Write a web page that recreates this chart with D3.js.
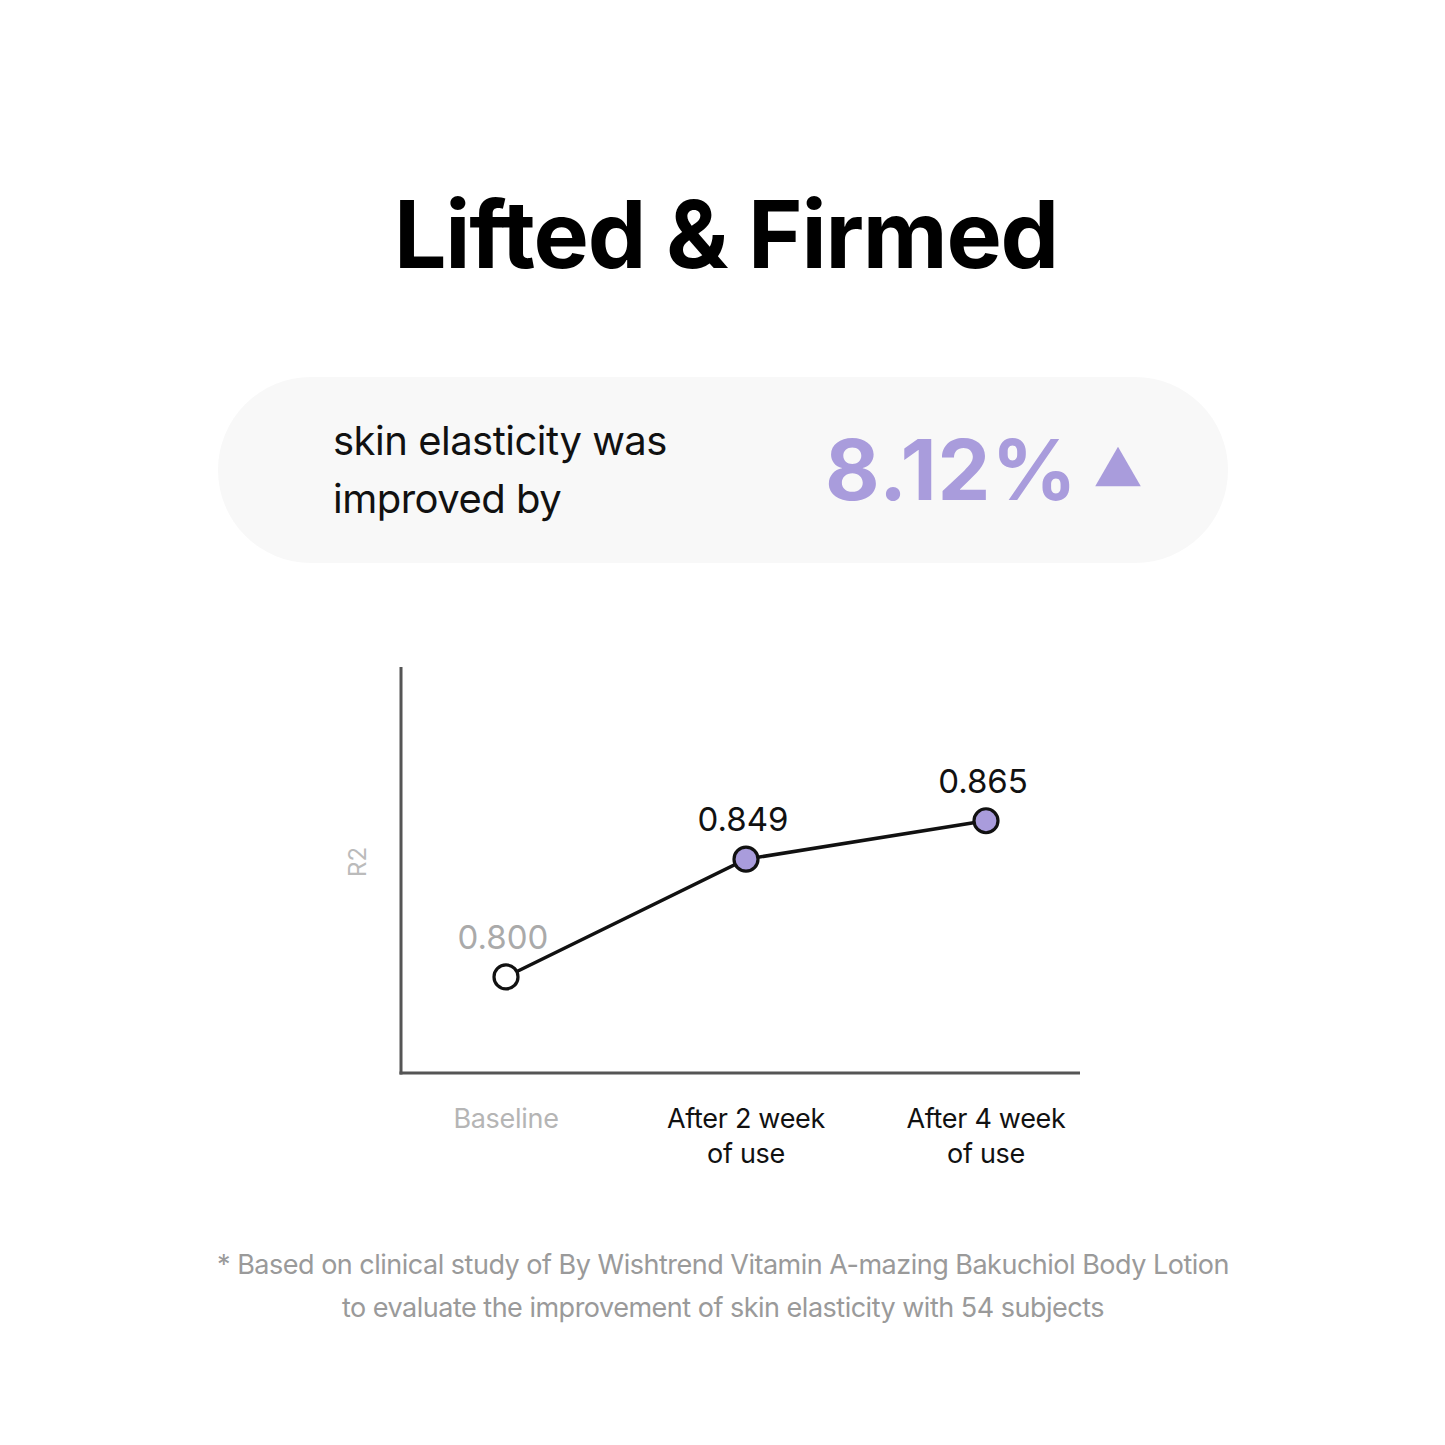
<!DOCTYPE html>
<html>
<head>
<meta charset="utf-8">
<script src="https://cdn.jsdelivr.net/npm/d3@7"></script>
<style>
  html, body { margin: 0; padding: 0; background: #ffffff; }
  svg { display: block; font-family: Inter, "Noto Sans", sans-serif; }
</style>
</head>
<body>
<svg id="chart" width="1445" height="1445"></svg>
<script>
// ---- data ----
const categories = ["Baseline", "After 2 week|of use", "After 4 week|of use"];
const values = [0.800, 0.849, 0.865];
const valueLabels = ["0.800", "0.849", "0.865"];
const yDomain = [0.76, 0.929];
const title = "Lifted & Firmed";
const calloutLines = ["skin elasticity was", "improved by"];
const calloutValue = "8.12%";
const yAxisLabel = "R2";
const footnote = [
  "* Based on clinical study of By Wishtrend Vitamin A-mazing Bakuchiol Body Lotion",
  "to evaluate the improvement of skin elasticity with 54 subjects"
];

const purple = "#a99cdc";
const svg = d3.select("#chart");

// title
svg.append("text")
  .attr("x", 726).attr("y", 268)
  .attr("text-anchor", "middle")
  .attr("font-size", 93).attr("font-weight", 700)
  .attr("letter-spacing", -1.2)
  .attr("fill", "#000")
  .text(title);

// callout pill
svg.append("rect")
  .attr("x", 218).attr("y", 377).attr("width", 1010).attr("height", 186)
  .attr("rx", 93).attr("ry", 93)
  .attr("fill", "#f8f8f8");
svg.selectAll("text.callout").data(calloutLines).enter().append("text")
  .attr("class", "callout")
  .attr("x", 333).attr("y", (d, i) => 455 + i * 58)
  .attr("font-size", 40).attr("fill", "#111")
  .attr("letter-spacing", -0.5)
  .text(d => d);
svg.append("text")
  .attr("x", 825).attr("y", 500)
  .attr("font-size", 84).attr("font-weight", 700)
  .attr("letter-spacing", 1)
  .attr("fill", purple)
  .text(calloutValue);
svg.append("path")
  .attr("d", d3.symbol().type(d3.symbolTriangle).size(900)())
  .attr("transform", "translate(1118,473)")
  .attr("fill", purple);

// chart
const x0 = 401, x1 = 1080, yTop = 667, yBot = 1073;
const x = d3.scalePoint().domain(categories).range([506, 986]);
const y = d3.scaleLinear().domain(yDomain).range([yBot, yTop]);

// axes
svg.append("line").attr("x1", x0).attr("x2", x0).attr("y1", yTop).attr("y2", yBot + 1.5)
  .attr("stroke", "#555").attr("stroke-width", 3);
svg.append("line").attr("x1", x0 - 1.5).attr("x2", x1).attr("y1", yBot).attr("y2", yBot)
  .attr("stroke", "#555").attr("stroke-width", 3);

// y label
svg.append("text")
  .attr("transform", `translate(366,${(yTop + yBot) / 2 - 8}) rotate(-90)`)
  .attr("text-anchor", "middle")
  .attr("font-size", 24).attr("fill", "#bbb")
  .text(yAxisLabel);

const data = categories.map((c, i) => ({ c, v: values[i], label: valueLabels[i], i }));

// line
svg.append("path")
  .datum(data)
  .attr("d", d3.line().x(d => x(d.c)).y(d => y(d.v)))
  .attr("fill", "none").attr("stroke", "#111").attr("stroke-width", 3.5);

// points
svg.selectAll("circle.pt").data(data).enter().append("circle")
  .attr("class", "pt")
  .attr("cx", d => x(d.c)).attr("cy", d => y(d.v)).attr("r", 12)
  .attr("fill", d => d.i === 0 ? "#fff" : purple)
  .attr("stroke", "#111").attr("stroke-width", 3.2);

// value labels
svg.selectAll("text.vl").data(data).enter().append("text")
  .attr("class", "vl")
  .attr("x", d => x(d.c) - 3).attr("y", d => y(d.v) - 28)
  .attr("text-anchor", "middle")
  .attr("font-size", 33)
  .attr("fill", d => d.i === 0 ? "#aaa" : "#111")
  .text(d => d.label);

// x labels
data.forEach(d => {
  const lines = d.c.split("|");
  const t = svg.append("text")
    .attr("x", x(d.c)).attr("y", 1128)
    .attr("text-anchor", "middle")
    .attr("font-size", 27)
    .attr("letter-spacing", -0.3)
    .attr("fill", d.i === 0 ? "#b5b5b5" : "#111");
  lines.forEach((l, k) => {
    t.append("tspan").attr("x", x(d.c)).attr("dy", k === 0 ? 0 : 35).text(l);
  });
});

// footnote
svg.selectAll("text.fn").data(footnote).enter().append("text")
  .attr("class", "fn")
  .attr("x", 723).attr("y", (d, i) => 1274 + i * 43)
  .attr("text-anchor", "middle")
  .attr("font-size", 27)
  .attr("letter-spacing", -0.5)
  .attr("fill", "#9a9a9a")
  .text(d => d);
</script>
</body>
</html>
